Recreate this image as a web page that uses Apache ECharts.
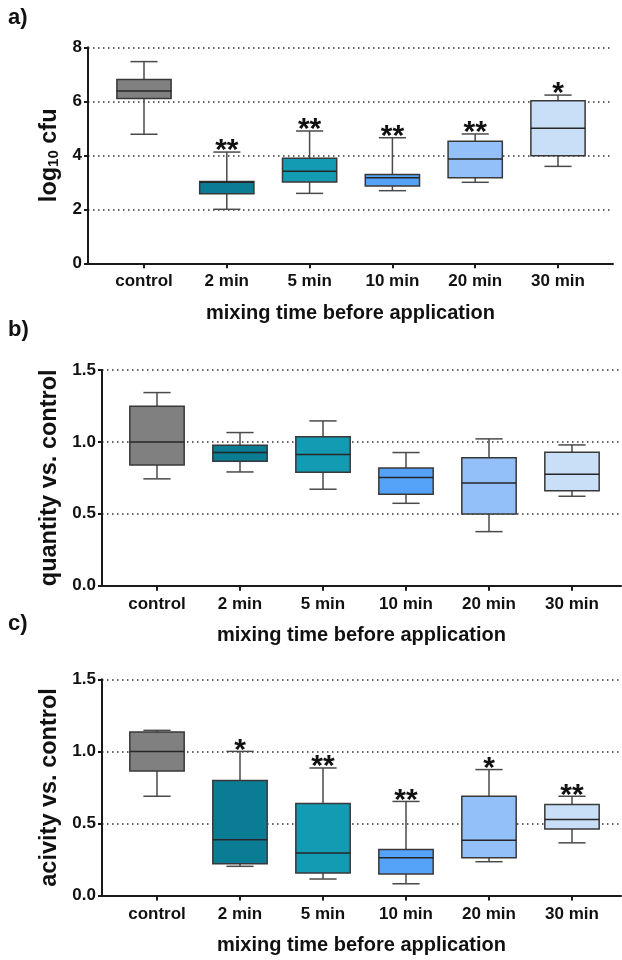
<!DOCTYPE html>
<html>
<head>
<meta charset="utf-8">
<script src="https://cdn.jsdelivr.net/npm/echarts@6/dist/echarts.min.js"></script>
<style>
  html, body { margin: 0; padding: 0; background: #fff; }
  #chart { width: 622px; height: 960px; }
</style>
</head>
<body>
<div id="chart"></div>
<script>
// categories on every panel
const categories = ["control", "2 min", "5 min", "10 min", "20 min", "30 min"];

// box values: [min, q1, median, q3, max]
const cfuBoxes = [
  [4.78, 6.10, 6.38, 6.81, 7.47],
  [2.00, 2.58, 3.00, 3.03, 4.12],
  [2.59, 3.01, 3.41, 3.89, 4.90],
  [2.69, 2.86, 3.17, 3.29, 4.65],
  [3.00, 3.17, 3.86, 4.52, 4.79],
  [3.59, 3.98, 5.00, 6.02, 6.23],
];
const cfuStars = ["", "**", "**", "**", "**", "*"];

const quantityBoxes = [
  [0.743, 0.840, 1.000, 1.248, 1.343],
  [0.791, 0.866, 0.926, 0.977, 1.065],
  [0.671, 0.789, 0.912, 1.035, 1.146],
  [0.573, 0.636, 0.752, 0.819, 0.926],
  [0.376, 0.499, 0.715, 0.889, 1.021],
  [0.622, 0.661, 0.775, 0.928, 0.979],
];
const quantityStars = ["", "", "", "", "", ""];

const activityBoxes = [
  [0.689, 0.864, 1.000, 1.134, 1.146],
  [0.203, 0.221, 0.387, 0.798, 1.000],
  [0.115, 0.156, 0.295, 0.639, 0.885],
  [0.082, 0.149, 0.262, 0.320, 0.653],
  [0.235, 0.262, 0.383, 0.689, 0.874],
  [0.366, 0.461, 0.528, 0.632, 0.689],
];
const activityStars = ["", "*", "**", "**", "*", "**"];

const cfuTicks = [0, 8, 2];
const ratioTicks = [0, 1.5, 0.5];

const boxColors = ["#808080", "#0a7d95", "#139bb3", "#55a3f8", "#93c0f8", "#c9dff7"];

const FONT = '"Liberation Sans", Arial, sans-serif';
const AXIS_COLOR = "#1a1a1a";

// draws one box with half-width whisker caps + significance stars
const boxRenderer = (stars) => (params, api) => {
  const i = api.value(0);
  const lo = api.coord([i, api.value(1)]);
  const q1 = api.coord([i, api.value(2)]);
  const md = api.coord([i, api.value(3)]);
  const q3 = api.coord([i, api.value(4)]);
  const hi = api.coord([i, api.value(5)]);
  const w = api.size([1, 0])[0] * 0.655;
  const cx = lo[0];
  const cap = w / 4;
  const whisker = { stroke: "#4a4a4a", lineWidth: 1.5 };
  const children = [
    { type: "line", shape: { x1: cx, y1: hi[1], x2: cx, y2: q3[1] }, style: whisker },
    { type: "line", shape: { x1: cx, y1: q1[1], x2: cx, y2: lo[1] }, style: whisker },
    { type: "line", shape: { x1: cx - cap, y1: hi[1], x2: cx + cap, y2: hi[1] }, style: whisker },
    { type: "line", shape: { x1: cx - cap, y1: lo[1], x2: cx + cap, y2: lo[1] }, style: whisker },
    {
      type: "rect",
      shape: { x: cx - w / 2, y: q3[1], width: w, height: q1[1] - q3[1] },
      style: { fill: boxColors[i], stroke: "#383838", lineWidth: 1.5 },
    },
    {
      type: "line",
      shape: { x1: cx - w / 2, y1: md[1], x2: cx + w / 2, y2: md[1] },
      style: { stroke: "#262626", lineWidth: 1.5 },
    },
  ];
  if (stars[i]) {
    children.push({
      type: "text",
      style: {
        text: stars[i],
        x: cx,
        y: hi[1] - 1,
        align: "center",
        verticalAlign: "middle",
        font: "bold 30px " + FONT,
        fill: "#111",
      },
    });
  }
  return { type: "group", children };
};

const grids = [];
const xAxes = [];
const yAxes = [];
const series = [];

// frame grid holds the y axis, dotted lines and x axis line; data grid holds the boxes
const addPanel = (p) => {
  const frameIdx = grids.length;
  grids.push({ left: p.axisX, width: p.endX - p.axisX, top: p.top, height: p.zero - p.top });
  grids.push({ left: p.first - p.band / 2, width: p.band * 6, top: p.top, height: p.zero - p.top });

  xAxes.push({
    gridIndex: frameIdx,
    type: "value",
    min: 0,
    max: 1,
    axisLine: { show: true, lineStyle: { color: AXIS_COLOR, width: 2 } },
    axisTick: { show: false },
    axisLabel: { show: false },
    splitLine: { show: false },
    name: "mixing time before application",
    nameLocation: "middle",
    nameGap: 40,
    nameTextStyle: { fontFamily: FONT, fontWeight: "bold", fontSize: 20, color: "#111" },
  });
  xAxes.push({
    gridIndex: frameIdx + 1,
    type: "category",
    data: categories,
    axisLine: { show: false },
    axisTick: { show: true, alignWithLabel: true, length: 5, lineStyle: { color: AXIS_COLOR, width: 2 } },
    axisLabel: { fontFamily: FONT, fontWeight: "bold", fontSize: 17, color: "#111", margin: 10 },
    splitLine: { show: false },
  });

  yAxes.push({
    gridIndex: frameIdx,
    type: "value",
    min: p.ticks[0],
    max: p.ticks[1],
    interval: p.ticks[2],
    axisLine: { show: true, lineStyle: { color: AXIS_COLOR, width: 2 } },
    axisTick: { show: true, length: 4, lineStyle: { color: AXIS_COLOR, width: 2 } },
    axisLabel: {
      fontFamily: FONT,
      fontWeight: "bold",
      fontSize: 17,
      color: "#111",
      margin: 6,
      formatter: p.fmt,
    },
    splitLine: { show: true, lineStyle: { color: "#333", width: 1.5, type: [1.5, 3.5] } },
    name: p.yName,
    nameLocation: "middle",
    nameRotate: 90,
    nameGap: p.nameGap,
    nameTextStyle: p.yNameStyle,
  });
  yAxes.push({
    gridIndex: frameIdx + 1,
    type: "value",
    show: false,
    min: p.ticks[0],
    max: p.ticks[1],
  });

  series.push({
    type: "custom",
    xAxisIndex: frameIdx + 1,
    yAxisIndex: frameIdx + 1,
    renderItem: boxRenderer(p.stars),
    encode: { x: 0, y: [1, 2, 3, 4, 5] },
    data: p.boxes.map((b, i) => [i, ...b]),
    silent: true,
  });
};

const nameStyle = { fontFamily: FONT, fontWeight: "bold", fontSize: 23.5, color: "#111" };

addPanel({
  axisX: 88, endX: 613, top: 47.3, zero: 263.3, first: 144, band: 82.8,
  ticks: cfuTicks, fmt: (v) => String(v), boxes: cfuBoxes, stars: cfuStars,
  yName: "{b|log}{s|10}{b| cfu}", nameGap: 26,
  yNameStyle: {
    rich: {
      b: { fontFamily: FONT, fontWeight: "bold", fontSize: 23.5, color: "#111" },
      s: { fontFamily: FONT, fontWeight: "bold", fontSize: 15, color: "#111", verticalAlign: "bottom" },
    },
  },
});
addPanel({
  axisX: 102, endX: 621, top: 370, zero: 585.7, first: 157, band: 83,
  ticks: ratioTicks, fmt: (v) => v.toFixed(1), boxes: quantityBoxes, stars: quantityStars,
  yName: "quantity vs. control", nameGap: 40, yNameStyle: nameStyle,
});
addPanel({
  axisX: 102, endX: 621, top: 679.3, zero: 895.6, first: 157, band: 83,
  ticks: ratioTicks, fmt: (v) => v.toFixed(1), boxes: activityBoxes, stars: activityStars,
  yName: "acivity vs. control", nameGap: 40, yNameStyle: nameStyle,
});

const panelLabel = (text, top) => ({
  type: "text",
  left: 8,
  top: top,
  style: { text: text, font: "bold 22px " + FONT, fill: "#111" },
});

const option = {
  animation: false,
  backgroundColor: "#fff",
  grid: grids,
  xAxis: xAxes,
  yAxis: yAxes,
  series: series,
  graphic: [panelLabel("a)", 7), panelLabel("b)", 319), panelLabel("c)", 613)],
};

const chart = echarts.init(document.getElementById("chart"), null, { renderer: "canvas" });
chart.setOption(option);
window.addEventListener("resize", chart.resize);
</script>
</body>
</html>
